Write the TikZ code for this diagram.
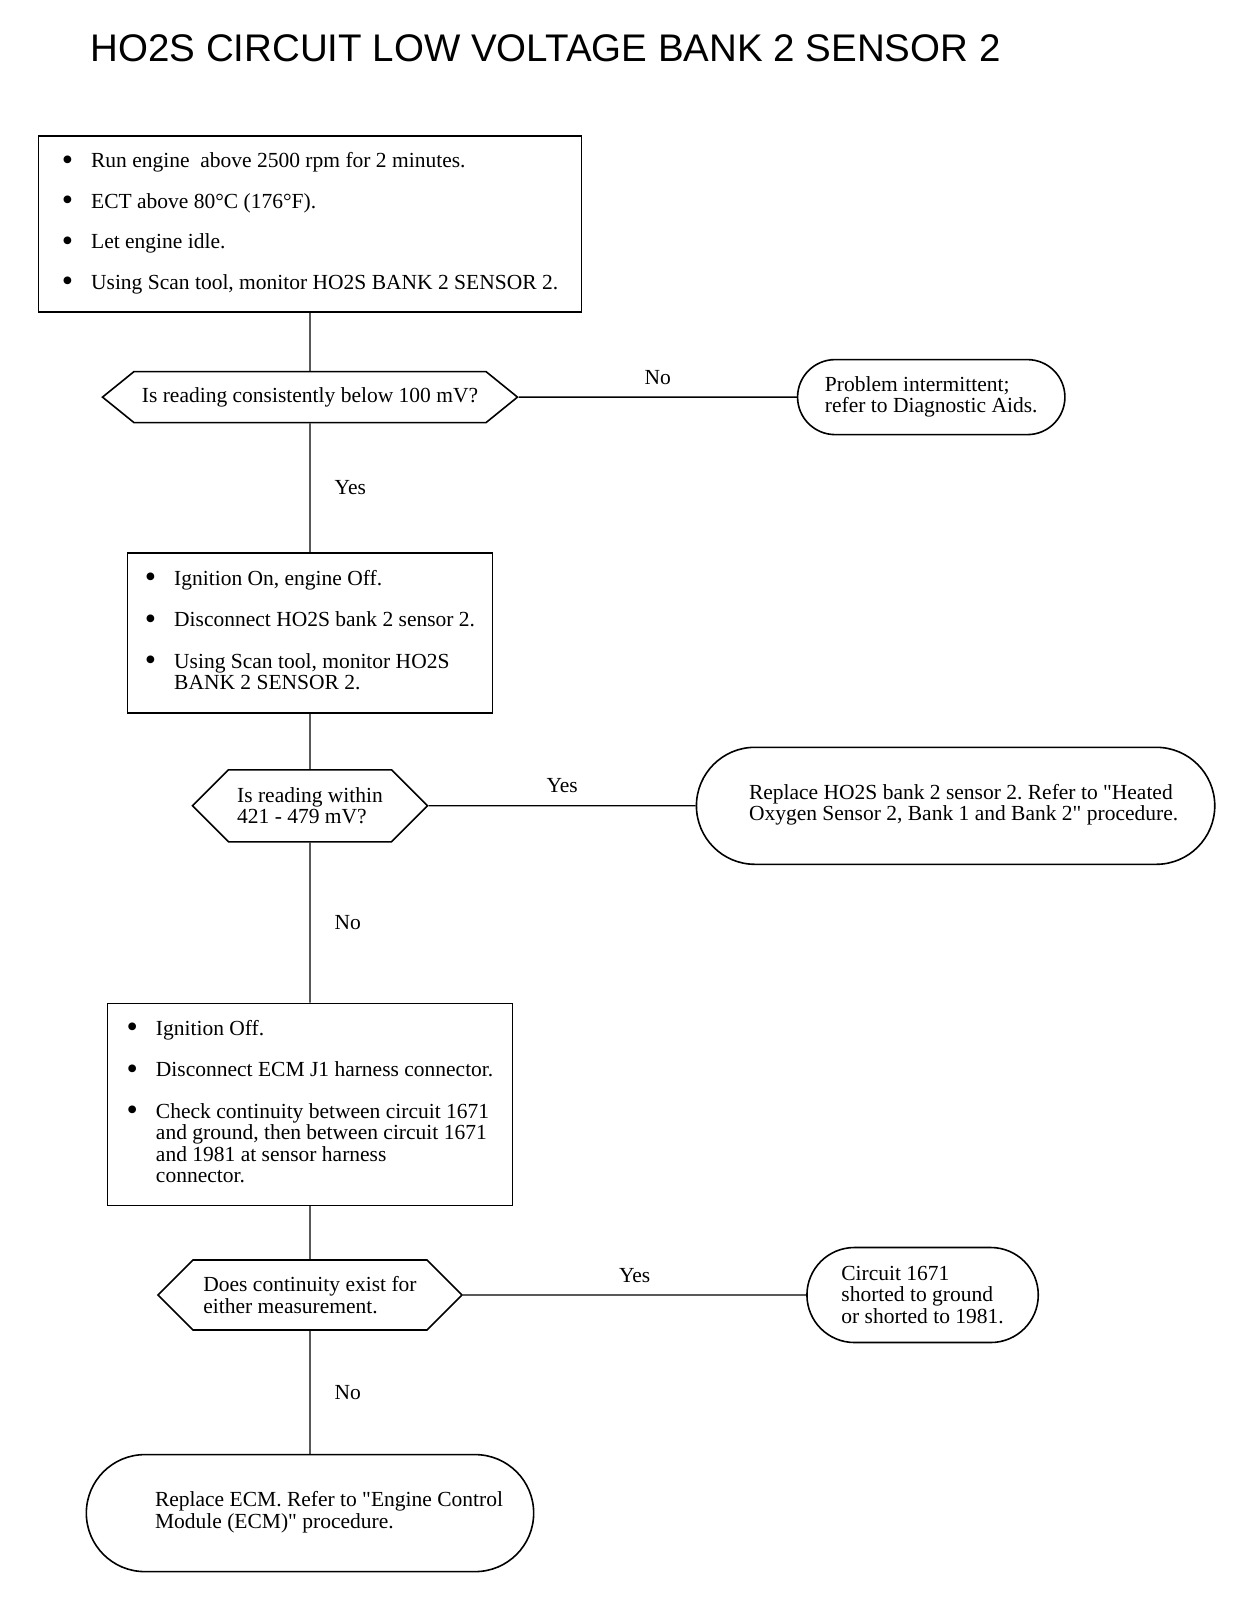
\documentclass[tikz,border=0pt]{standalone}
\usepackage{fontspec}
\setmainfont{Liberation Serif}
\newfontfamily\titlefont{Liberation Sans}
\usepackage{tikz}
\usetikzlibrary{shapes.symbols, shapes.misc, positioning}
\frenchspacing
\tikzstyle{stepbox}=[rectangle, draw, line width=1.6pt, align=left]
\tikzstyle{query}=[signal, signal to=west and east, draw, line width=1.6pt,
  align=left, inner sep=2pt]
\tikzstyle{result}=[rounded rectangle, draw, line width=1.6pt, align=left]
\tikzstyle{link}=[line width=1.3pt]
\tikzstyle{answer}=[inner sep=2pt]
\newcommand{\dotmark}{\raisebox{-2.5pt}{\scalebox{1.5}{\textbullet}}}
\newcommand{\qq}{\textquotedbl}

\begin{document}
\begin{tikzpicture}[x=1pt, y=-1pt, font=\fontsize{21.5}{21.5}\selectfont]
  \useasboundingbox (0,0) rectangle (1248,1604);
  \node[anchor=base west, font=\titlefont\fontsize{38.5}{40}\selectfont]
    (title) at (87,61) {HO2S CIRCUIT LOW VOLTAGE BANK 2 SENSOR 2};
  % main column
  \node[stepbox, minimum width=543pt, minimum height=176pt] (s1) at (310,224) {%
    \begin{tabular}{@{}l@{\hspace{18pt}}l@{}}
      \dotmark & Run engine~ above 2500 rpm for 2 minutes.\\[19pt]
      \dotmark & ECT above 80°C (176°F).\\[19pt]
      \dotmark & Let engine idle.\\[19pt]
      \dotmark & Using Scan tool, monitor HO2S BANK 2 SENSOR 2.
    \end{tabular}};
  \node[query, minimum width=415pt, minimum height=51pt, signal pointer angle=78,
    below=58pt of s1] (q1) {Is reading consistently below 100 mV?};
  \node[stepbox, minimum width=365pt, minimum height=160pt, below=129pt of q1] (s2) {%
    \begin{tabular}{@{}l@{\hspace{18pt}}l@{}}
      \dotmark & Ignition On, engine Off.\\[20pt]
      \dotmark & Disconnect HO2S bank 2 sensor 2.\\[20pt]
      \dotmark & Using Scan tool, monitor HO2S\\
               & BANK 2 SENSOR 2.
    \end{tabular}};
  \node[query, minimum width=235pt, minimum height=72pt, signal pointer angle=90,
    below=55pt of s2] (q2) {Is reading within\\421 - 479 mV?};
  \node[stepbox, minimum width=405pt, minimum height=202pt, below=160pt of q2] (s3) {%
    \begin{tabular}{@{}l@{\hspace{18pt}}l@{}}
      \dotmark & Ignition Off.\\[20pt]
      \dotmark & Disconnect ECM J1 harness connector.\\[20pt]
      \dotmark & Check continuity between circuit 1671\\
               & and ground, then between circuit 1671\\
               & and 1981 at sensor harness\\
               & connector.
    \end{tabular}};
  \node[query, minimum width=304pt, minimum height=70pt, signal pointer angle=90,
    below=53pt of s3] (q3) {Does continuity exist for\\either measurement.};
  \node[result, minimum width=454pt, minimum height=117pt, below=123pt of q3] (r4) {%
    \begin{tabular}{@{\hspace{38pt}}l@{}}
      Replace ECM. Refer to \qq Engine Control\\
      Module (ECM)\qq\ procedure.
    \end{tabular}};
  % side results
  \node[result, minimum width=274pt, minimum height=75pt, right=278pt of q1]
    (r1) {Problem intermittent;\\refer to Diagnostic Aids.};
  \node[result, minimum width=525pt, minimum height=117pt, right=267pt of q2] (r2) {%
    \begin{tabular}{@{\hspace{16pt}}l@{}}
      Replace HO2S bank 2 sensor 2. Refer to \qq Heated\\
      Oxygen Sensor 2, Bank 1 and Bank 2\qq\ procedure.
    \end{tabular}};
  \node[result, minimum width=238pt, minimum height=95pt, right=343pt of q3]
    (r3) {Circuit 1671\\shorted to ground\\or shorted to 1981.};
  % connectors
  \draw[link] (s1) -- (q1);
  \draw[link] (q1) -- node[answer, right=22pt] {Yes} (s2);
  \draw[link] (s2) -- (q2);
  \draw[link] (q2) -- node[answer, right=22pt] {No} (s3);
  \draw[link] (s3) -- (q3);
  \draw[link] (q3) -- node[answer, right=22pt] {No} (r4);
  \draw[link] (q1) -- node[answer, above=10pt] {No} (r1);
  \draw[link] (q2) -- node[answer, above=10pt] {Yes} (r2);
  \draw[link] (q3) -- node[answer, above=10pt] {Yes} (r3);
\end{tikzpicture}
\end{document}
